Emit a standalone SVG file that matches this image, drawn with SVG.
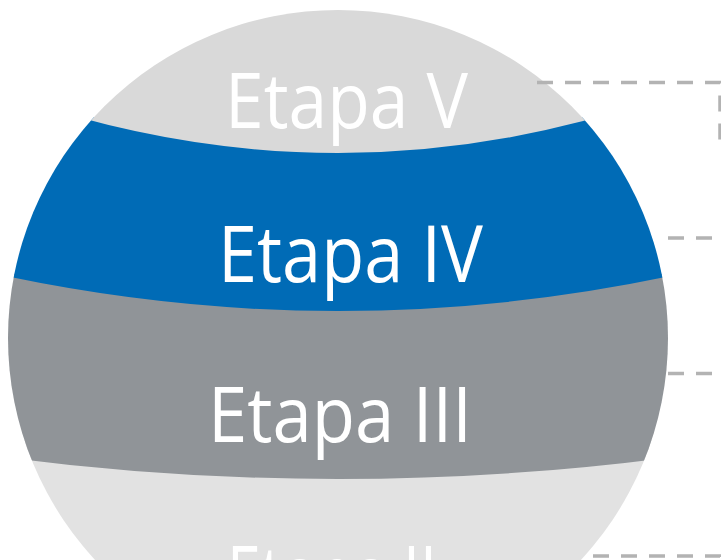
<svg xmlns="http://www.w3.org/2000/svg" width="721" height="560" viewBox="0 0 721 560">
  <style>
    .lbl { font-family: "Open Sans", "Noto Sans", "DejaVu Sans", sans-serif; font-size: 76px; font-weight: 500; fill: #ffffff; }
    .conn { fill: none; stroke: #b3b3b3; stroke-width: 3.5; stroke-dasharray: 16 12; }
  </style>
  <defs>
    <clipPath id="globe">
      <ellipse cx="338" cy="338" rx="330" ry="328"/>
    </clipPath>
  </defs>
  <g clip-path="url(#globe)">
    <g id="etapa-ii">
      <rect x="-24" y="440" width="760" height="260" fill="#e2e2e2"/>
      <text class="lbl" x="227" y="601" textLength="210" lengthAdjust="spacingAndGlyphs">Etapa II</text>
    </g>
    <g id="etapa-iii">
      <path d="M-24,265.6 Q338,348.4 700,265.6 V453.3 Q338,504.7 -24,453.3 Z" fill="#909498"/>
      <text class="lbl" x="208" y="442" textLength="264" lengthAdjust="spacingAndGlyphs">Etapa III</text>
    </g>
    <g id="etapa-iv">
      <path d="M-24,79.3 Q338,218.7 700,79.3 V269.6 Q338,352.4 -24,269.6 Z" fill="#006bb6"/>
      <text class="lbl" x="218" y="282" style="font-size:79px" textLength="265" lengthAdjust="spacingAndGlyphs">Etapa IV</text>
    </g>
    <g id="etapa-v">
      <path d="M-24,-20 H700 V83.3 Q338,222.7 -24,83.3 Z" fill="#d9d9d9"/>
      <text class="lbl" x="225" y="128" textLength="243" lengthAdjust="spacingAndGlyphs">Etapa V</text>
    </g>
  </g>
  <g id="connectors">
    <path class="conn" d="M537,82.5 H720 V150"/>
    <path class="conn" d="M668,238 H721"/>
    <path class="conn" d="M668,373.5 H721"/>
    <path class="conn" d="M593,556 H720 V562"/>
  </g>
</svg>
